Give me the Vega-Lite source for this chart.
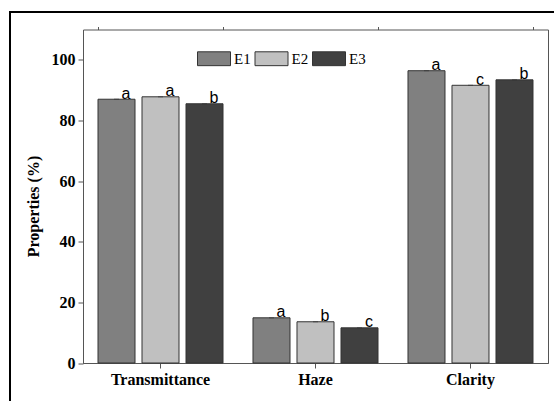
{
  "$schema": "https://vega.github.io/schema/vega-lite/v6.json",
  "width": 465,
  "height": 333.5,
  "autosize": {"type": "none"},
  "padding": {"left": 83, "top": 29.5, "right": 16, "bottom": 48},
  "background": "white",
  "config": {
    "view": {"stroke": "#555", "strokeWidth": 1},
    "legend": {"strokeWidth": 2},
    "axis": {"domainColor": "#555", "tickColor": "#555", "grid": false,
      "labelFont": "Liberation Serif", "labelFontWeight": "bold", "labelFontSize": 16, "labelColor": "black",
      "titleFont": "Liberation Serif", "titleFontWeight": "bold", "titleFontSize": 16, "titleColor": "black"}
  },
  "data": {"values": [
    {"property": "Transmittance", "sample": "E1", "value": 87.0, "letter": "a"},
    {"property": "Transmittance", "sample": "E2", "value": 87.8, "letter": "a"},
    {"property": "Transmittance", "sample": "E3", "value": 85.5, "letter": "b"},
    {"property": "Haze", "sample": "E1", "value": 14.9, "letter": "a"},
    {"property": "Haze", "sample": "E2", "value": 13.6, "letter": "b"},
    {"property": "Haze", "sample": "E3", "value": 11.6, "letter": "c"},
    {"property": "Clarity", "sample": "E1", "value": 96.4, "letter": "a"},
    {"property": "Clarity", "sample": "E2", "value": 91.6, "letter": "c"},
    {"property": "Clarity", "sample": "E3", "value": 93.4, "letter": "b"}
  ]},
  "encoding": {
    "x": {"field": "property", "type": "nominal", "sort": ["Transmittance", "Haze", "Clarity"],
      "scale": {"paddingInner": 0.1935, "paddingOuter": 0.0968}},
    "xOffset": {"field": "sample", "type": "nominal", "sort": ["E1", "E2", "E3"],
      "scale": {"paddingInner": 0.159, "paddingOuter": 0}},
    "y": {"field": "value", "type": "quantitative", "scale": {"domain": [0, 110], "nice": false}}
  },
  "layer": [
    {
      "mark": {"type": "bar", "stroke": "#333", "strokeWidth": 1},
      "encoding": {
        "x": {"field": "property", "type": "nominal", "sort": ["Transmittance", "Haze", "Clarity"],
          "axis": {"title": null, "labelAngle": 0, "tickSize": 5, "labelPadding": 3, "domain": true}},
        "y": {"field": "value", "type": "quantitative", "scale": {"domain": [0, 110], "nice": false},
          "axis": {"title": "Properties (%)", "values": [0, 10, 20, 30, 40, 50, 60, 70, 80, 90, 100],
            "labelExpr": "datum.value % 20 === 0 ? datum.label : ''",
            "tickSize": {"condition": {"test": "datum.value % 20 === 0", "value": 5}, "value": 3},
            "labelPadding": 3, "titleX": -44.7, "titleY": 176.5, "titleBaseline": "alphabetic", "titleAngle": 270, "titleAlign": "center"}},
        "color": {"field": "sample", "type": "nominal",
          "scale": {"domain": ["E1", "E2", "E3"], "range": ["#808080", "#c0c0c0", "#404040"]},
          "legend": {"title": null, "orient": "none", "direction": "horizontal", "legendX": 114, "legendY": 12.2,
            "padding": 0, "symbolType": "M-1,-0.42L1,-0.42L1,0.42L-1,0.42Z", "symbolSize": 1089,
            "symbolStrokeColor": "#333", "symbolStrokeWidth": 1, "symbolOpacity": 1,
            "labelFont": "Liberation Serif", "labelFontSize": 15, "labelColor": "black",
            "labelOffset": 3, "columnPadding": 1.5}}
      }
    },
    {
      "mark": {"type": "tick", "color": "#333", "size": 5, "thickness": 1, "orient": "horizontal"},
      "encoding": {
        "x": {"field": "property", "type": "nominal", "sort": ["Transmittance", "Haze", "Clarity"],
          "axis": {"title": null, "labels": false, "domain": false, "tickBand": "extent", "tickSize": 3}}
      }
    },
    {
      "mark": {"type": "text", "font": "Liberation Sans", "fontSize": 16, "color": "black", "dx": 9.5, "baseline": "alphabetic", "dy": -0.5},
      "encoding": {
        "x": {"field": "property", "type": "nominal", "sort": ["Transmittance", "Haze", "Clarity"], "axis": null},
        "text": {"field": "letter"},
        "opacity": {"field": "value", "type": "quantitative", "scale": {"range": [1, 1]},
          "legend": {"title": null, "type": "symbol", "orient": "none", "legendX": -73, "legendY": -17.5, "padding": 400,
            "strokeColor": "black", "symbolOpacity": 0, "symbolStrokeWidth": 0, "symbolSize": 1,
            "labelExpr": "''", "labelFontSize": 1, "values": [50]}}
      }
    }
  ],
  "resolve": {"axis": {"x": "independent"}}
}
